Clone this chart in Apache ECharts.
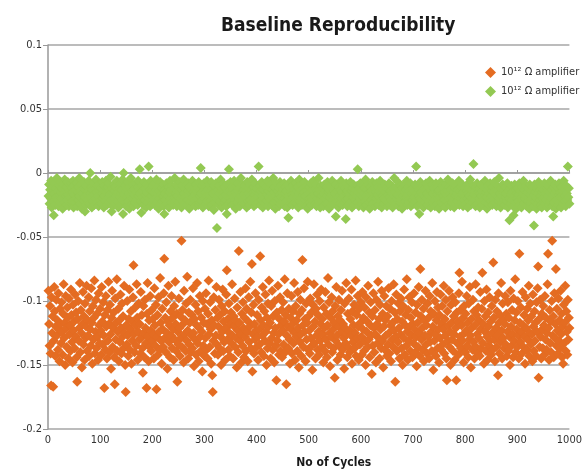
<!DOCTYPE html>
<html>
<head>
<meta charset="utf-8">
<script src="https://cdn.jsdelivr.net/npm/echarts@6/dist/echarts.min.js"></script>
<style>
  html, body { margin: 0; padding: 0; background: #fff; }
  #chart { width: 585px; height: 474px; }
</style>
</head>
<body>
<div id="chart"></div>
<script>
// values in thousandths, x = cycle number
var seriesNames = ['10\u00b9\u00b2 \u03a9 amplifier', '10\u00b9\u00b2 \u03a9 amplifier'];
var xTicks = [0, 100, 200, 300, 400, 500, 600, 700, 800, 900, 1000];
var yTicks = [-0.2, -0.15, -0.1, -0.05, 0, 0.05, 0.1];

var orangeMilli = [
  -92,-118,-135,-104,-141,-166,-97,-125,-112,-167,-131,-89,-108,-143,-120,-99,-127,-115,-138,-94,-122,-147,-106,-118,-133,
  -101,-124,-142,-110,-87,-129,-117,-150,-96,-121,-136,-105,-113,-145,-98,-126,-119,-139,-91,-111,-132,-148,-103,-123,-116,
  -137,-95,-128,-109,-144,-163,-114,-100,-131,-121,-86,-140,-107,-125,-152,-118,-93,-134,-112,-146,-102,-129,-120,-88,-139,
  -115,-127,-97,-143,-108,-122,-135,-90,-117,-149,-104,-130,-113,-84,-141,-124,-99,-137,-110,-128,-146,-94,-119,-133,-106,
  -123,-142,-89,-116,-134,-101,-127,-168,-111,-138,-96,-120,-145,-107,-131,-85,-118,-140,-103,-126,-153,-113,-92,-136,-121,
  -109,-144,-165,-98,-130,-117,-83,-139,-124,-106,-147,-115,-132,-95,-121,-141,-102,-128,-112,-137,-88,-125,-150,-171,-119,
  -134,-100,-127,-143,-114,-91,-138,-122,-108,-149,-116,-131,-97,-72,-126,-140,-105,-119,-135,-87,-113,-146,-124,-102,-130,
  -118,-141,-93,-129,-111,-137,-156,-104,-125,-144,-99,-121,-133,-168,-110,-86,-128,-147,-115,-136,-96,-123,-139,-107,-131,
  -114,-126,-145,-90,-119,-135,-103,-169,-128,-111,-142,-97,-124,-138,-82,-117,-131,-149,-106,-122,-136,-94,-67,-129,-113,
  -140,-101,-125,-153,-116,-88,-132,-119,-144,-108,-127,-96,-137,-113,-122,-146,-104,-130,-85,-118,-139,-110,-163,-124,-134,
  -98,-121,-143,-112,-129,-53,-136,-107,-118,-148,-92,-126,-115,-139,-102,-131,-81,-123,-145,-109,-134,-117,-99,-140,-127,
  -111,-137,-90,-125,-151,-114,-130,-103,-142,-119,-86,-133,-108,-147,-121,-96,-128,-139,-113,-124,-155,-100,-135,-117,-143,
  -106,-129,-94,-138,-118,-145,-110,-84,-126,-136,-101,-122,-149,-115,-158,-171,-131,-97,-119,-141,-107,-127,-89,-134,-113,
  -142,-120,-99,-137,-111,-128,-150,-104,-124,-91,-139,-116,-132,-108,-146,-121,-95,-76,-130,-114,-138,-102,-125,-143,-118,
  -109,-133,-87,-127,-145,-112,-120,-98,-136,-115,-129,-152,-105,-123,-140,-61,-117,-131,-93,-126,-148,-110,-135,-101,-121,
  -144,-113,-128,-90,-139,-106,-124,-147,-116,-97,-132,-120,-85,-137,-109,-71,-155,-126,-103,-141,-118,-130,-94,-123,-136,
  -111,-128,-146,-99,-122,-134,-65,-115,-140,-105,-127,-89,-119,-143,-108,-131,-95,-124,-150,-113,-137,-102,-120,-84,-133,
  -117,-145,-104,-129,-92,-138,-112,-125,-148,-100,-121,-135,-162,-109,-131,-88,-126,-142,-114,-97,-139,-119,-107,-144,-123,
  -101,-134,-116,-83,-140,-111,-165,-127,-94,-120,-137,-106,-130,-149,-113,-122,-96,-141,-118,-108,-133,-86,-125,-146,-104,
  -128,-115,-139,-93,-121,-152,-110,-132,-99,-126,-143,-107,-68,-119,-136,-90,-124,-114,-147,-102,-130,-117,-85,-138,-112,
  -123,-141,-98,-129,-109,-135,-154,-103,-120,-87,-133,-116,-145,-106,-127,-95,-138,-111,-124,-142,-100,-131,-118,-91,-136,
  -114,-126,-148,-105,-121,-139,-93,-130,-110,-144,-119,-82,-134,-101,-125,-151,-113,-128,-97,-140,-108,-122,-137,-117,-160,
  -104,-131,-89,-127,-146,-112,-120,-99,-135,-115,-142,-107,-124,-92,-138,-118,-129,-153,-102,-121,-133,-86,-126,-144,-110,
  -136,-98,-123,-140,-114,-127,-91,-149,-108,-132,-119,-103,-137,-125,-84,-143,-111,-129,-96,-120,-146,-106,-134,-117,-101,
  -128,-142,-93,-122,-113,-139,-105,-131,-150,-97,-124,-116,-136,-88,-130,-109,-144,-119,-101,-127,-157,-112,-135,-94,-121,
  -140,-107,-126,-148,-99,-118,-133,-85,-129,-114,-145,-103,-122,-137,-92,-131,-110,-152,-120,-96,-138,-115,-127,-104,-143,
  -112,-134,-90,-125,-141,-106,-119,-147,-100,-130,-117,-136,-87,-123,-109,-163,-128,-95,-139,-114,-132,-102,-121,-145,-108,
  -126,-98,-137,-116,-150,-104,-129,-91,-142,-119,-111,-135,-83,-124,-146,-107,-131,-97,-120,-139,-113,-127,-101,-144,-118,
  -133,-94,-122,-140,-109,-128,-151,-103,-117,-136,-89,-125,-143,-75,-112,-130,-99,-121,-138,-106,-147,-115,-127,-92,-134,
  -119,-141,-102,-128,-113,-145,-96,-132,-108,-124,-139,-86,-120,-154,-110,-131,-100,-126,-143,-115,-93,-137,-105,-122,-148,
  -111,-129,-95,-138,-118,-104,-134,-122,-88,-141,-114,-127,-99,-145,-162,-108,-131,-119,-92,-136,-124,-150,-103,-117,-130,
  -97,-139,-112,-126,-146,-101,-121,-162,-109,-133,-116,-142,-94,-78,-128,-107,-137,-119,-85,-131,-113,-148,-104,-125,-140,
  -110,-123,-96,-135,-117,-144,-102,-130,-89,-127,-152,-114,-121,-138,-99,-132,-108,-145,-119,-87,-136,-111,-126,-141,-105,
  -129,-115,-143,-93,-122,-137,-106,-78,-133,-118,-149,-100,-124,-112,-139,-91,-128,-146,-109,-120,-135,-97,-131,-116,-142,
  -104,-125,-138,-70,-113,-130,-147,-99,-121,-136,-108,-127,-158,-94,-117,-141,-111,-132,-86,-123,-145,-102,-129,-115,-137,
  -118,-96,-134,-110,-143,-124,-101,-139,-113,-128,-150,-92,-120,-135,-107,-126,-144,-98,-131,-115,-83,-140,-109,-122,-136,
  -100,-127,-145,-63,-117,-132,-105,-124,-141,-93,-119,-136,-111,-128,-149,-97,-121,-138,-106,-130,-115,-88,-143,-125,-102,
  -134,-112,-126,-147,-95,-120,-139,-108,-131,-117,-143,-101,-124,-90,-73,-160,-114,-136,-99,-128,-145,-110,-122,-137,-104,
  -119,-142,-96,-130,-113,-138,-125,-87,-63,-121,-146,-107,-133,-116,-140,-100,-53,-127,-112,-144,-94,-129,-118,-75,-135,
  -106,-123,-141,-98,-131,-115,-137,-92,-126,-110,-144,-120,-149,-103,-133,-117,-88,-139,-108,-124,-142,-99,-130,-113,-121
];

var greenMilli = [
  -18,-9,-24,-13,-20,-6,-27,-15,-11,-22,-33,-16,-8,-25,-12,-19,-4,-21,-14,-26,-10,-17,-23,-7,-15,
  -20,-12,-28,-9,-16,-23,-5,-18,-13,-25,-11,-21,-7,-17,-26,-14,-19,-8,-24,-12,-22,-15,-6,-27,-10,
  -17,-23,-13,-20,-8,-26,-15,-11,-21,-4,-18,-24,-14,-9,-28,-16,-12,-22,-7,-19,-30,-13,-25,-10,-17,
  -21,-14,-6,-24,-16,0,-19,-11,-27,-13,-22,-8,-17,-25,-12,-20,-5,-15,-23,-10,-18,-26,-9,-14,-21,
  -12,-24,-16,-7,-20,-13,-27,-10,-18,-22,-6,-15,-25,-11,-19,-8,-23,-14,-17,-3,-21,-30,-12,-26,-16,
  -9,-20,-14,-24,-11,-18,-6,-22,-15,-27,-12,-19,-8,-25,-16,-13,-21,-5,-32,0,-17,-23,-10,-14,-26,
  -12,-19,-7,-22,-16,-28,-11,-18,-4,-24,-14,-20,-9,-26,-13,-17,-23,-8,-21,-15,-11,-25,-6,-18,-13,
  3,-16,-22,-31,-10,-19,-14,-25,-7,-21,-12,-17,-27,-9,-15,-23,-11,5,-20,-13,-26,-6,-18,-14,-24,
  -10,-21,-15,-8,-25,-13,-19,-5,-23,-16,-11,-28,-14,-20,-7,-24,-17,-12,-22,-9,-18,-26,-32,-13,-16,
  -21,-8,-24,-14,-18,-11,-27,-15,-6,-20,-13,-23,-10,-17,-25,-12,-19,-4,-22,-16,-9,-26,-14,-18,-11,
  -23,-15,-7,-20,-13,-27,-10,-18,-22,-5,-16,-24,-12,-19,-9,-25,-14,-21,-8,-17,-28,-11,-15,-22,-13,
  -19,-6,-24,-15,-11,-21,-17,-26,-9,-14,-20,-12,-25,-7,-18,-23,-13,4,-16,-22,-10,-27,-14,-8,-20,
  -15,-24,-11,-18,-6,-22,-13,-26,-9,-17,-21,-14,-7,-25,-12,-19,-16,-29,-10,-23,-15,-8,-20,-43,-13,
  -18,-25,-10,-16,-22,-5,-14,-27,-12,-19,-8,-23,-15,-11,-21,-17,-26,-32,-9,-14,-24,3,-13,-20,-7,
  -22,-16,-11,-25,-13,-19,-6,-21,-15,-28,-10,-17,-23,-8,-14,-20,-12,-26,-18,-4,-24,-15,-9,-21,-13,
  -17,-24,-10,-19,-14,-27,-7,-22,-16,-12,-25,-9,-18,-21,-13,-5,-23,-15,-11,-26,-17,-8,-20,-14,-24,
  -12,-19,-23,5,-16,-10,-25,-14,-21,-7,-18,-27,-13,-20,-9,-24,-15,-11,-22,-17,-6,-26,-14,-19,-12,
  -21,-9,-16,-25,-13,-19,-4,-23,-15,-11,-28,-18,-8,-22,-14,-20,-12,-26,-17,-7,-24,-10,-19,-15,-23,
  -13,-20,-8,-26,-16,-11,-22,-14,-27,-9,-35,-18,-12,-24,-15,-6,-21,-17,-25,-10,-19,-13,-23,-16,-8,
  -24,-14,-19,-11,-27,-16,-5,-22,-13,-20,-9,-25,-17,-12,-23,-15,-7,-21,-18,-26,-10,-14,-28,-16,-20,
  -11,-23,-15,-8,-19,-25,-13,-21,-6,-17,-24,-12,-18,-9,-26,-14,-20,-16,-4,-22,-13,-27,-10,-18,-15,
  -22,-12,-26,-16,-9,-20,-14,-24,-11,-18,-7,-23,-15,-28,-13,-19,-10,-25,-17,-6,-21,-14,-24,-12,-19,
  -16,-34,-9,-22,-14,-19,-27,-11,-17,-24,-13,-6,-20,-15,-25,-10,-18,-23,-12,-21,-36,-8,-16,-26,-14,
  -20,-11,-24,-17,-7,-22,-14,-27,-12,-19,-9,-25,-16,-21,-13,-18,-23,-10,3,-15,-26,-12,-20,-8,-17,
  -24,-14,-19,-10,-27,-16,-12,-22,-5,-18,-25,-13,-20,-9,-23,-15,-28,-11,-17,-21,-14,-7,-24,-16,-19,
  -12,-26,-15,-20,-8,-23,-17,-11,-25,-14,-19,-6,-22,-16,-27,-10,-18,-13,-24,-20,-9,-15,-21,-12,-26,
  -17,-13,-23,-8,-19,-25,-14,-21,-10,-16,-27,-12,-18,-4,-22,-15,-24,-11,-20,-17,-7,-26,-13,-19,-23,
  -10,-21,-16,-28,-12,-18,-24,-9,-15,-22,-13,-19,-6,-25,-17,-11,-23,-14,-20,-8,-26,-16,-12,-21,-18,
  -24,-14,-19,-9,-22,5,-16,-26,-11,-18,-13,-32,-20,-7,-24,-15,-21,-10,-17,-27,-12,-19,-23,-14,-8,
  -20,-16,-25,-11,-18,-22,-6,-14,-27,-13,-19,-9,-23,-16,-12,-21,-26,-15,-8,-24,-17,-11,-20,-14,-28,
  -13,-19,-7,-23,-16,-10,-25,-18,-12,-21,-15,-27,-9,-17,-22,-14,-5,-24,-11,-20,-16,-26,-13,-19,-23,
  -8,-21,-15,-27,-12,-18,-24,-10,-16,-22,-13,-19,-6,-25,-14,-20,-11,-23,-17,-9,-26,-15,-21,-12,-18,
  -24,-14,-20,-9,-27,-16,-12,-22,-18,-5,-25,-13,-19,-23,-10,7,-17,-21,-14,-26,-11,-18,-8,-24,-15,
  -20,-12,-27,-16,-22,-9,-18,-14,-25,-11,-21,-17,-6,-23,-15,-19,-28,-13,-10,-24,-16,-20,-8,-22,-14,
  -18,-25,-11,-21,-15,-7,-23,-17,-13,-26,-10,-19,-14,-22,-4,-20,-16,-27,-12,-18,-24,-9,-15,-21,-13,
  -25,-11,-19,-16,-22,-8,-27,-14,-20,-37,-12,-24,-17,-10,-21,-15,-26,-33,-18,-9,-23,-13,-28,-16,-20,
  -12,-22,-17,-8,-25,-14,-19,-27,-11,-21,-16,-6,-24,-13,-20,-18,-10,-26,-15,-22,-12,-19,-28,-9,-17,
  -23,-14,-20,-11,-26,-17,-41,-9,-22,-15,-19,-28,-12,-24,-16,-7,-21,-13,-25,-18,-10,-27,-15,-20,-13,
  -19,-8,-24,-16,-21,-12,-27,-14,-18,-10,-25,-15,-22,-6,-20,-13,-26,-17,-34,-11,-23,-16,-9,-28,-14,
  -21,-12,-25,-17,-8,-23,-15,-19,-27,-11,-20,-14,-24,-6,-18,-22,-13,-26,-10,-16,-21,5,-19,-12,-24
];

var colors = ['#e46c22', '#93c953'];
var narrow = '"DejaVu Sans Condensed", "Liberation Sans Narrow", "Liberation Sans", sans-serif';

function toPoints(arr) {
  var pts = [];
  for (var i = 0; i < arr.length; i++) {
    pts.push([i + 1, arr[i] / 1000]);
  }
  return pts;
}

var myChart = echarts.init(document.getElementById('chart'), null, { renderer: 'canvas' });
var option = {
  backgroundColor: '#fff',
  animation: false,
  color: colors,
  title: {
    text: 'Baseline Reproducibility',
    left: 216,
    top: 12,
    textStyle: { fontFamily: narrow, fontSize: 19, fontWeight: 'bold', color: '#1a1a1a' }
  },
  legend: {
    orient: 'vertical',
    left: 480,
    top: 62,
    itemWidth: 11,
    itemHeight: 11,
    itemGap: 8,
    icon: 'diamond',
    textStyle: { fontFamily: narrow, fontSize: 11, color: '#333' },
    data: [
      { name: seriesNames[0] },
      { name: seriesNames[1] + ' ' }
    ]
  },
  grid: { left: 48, right: 10, top: 45, bottom: 44 },
  xAxis: {
    type: 'value',
    min: xTicks[0],
    max: xTicks[xTicks.length - 1],
    interval: 100,
    name: 'No of Cycles',
    nameLocation: 'middle',
    nameGap: 28,
    nameTextStyle: { fontFamily: narrow, fontSize: 12, fontWeight: 'bold', color: '#1a1a1a', padding: [0, 0, 0, 50] },
    axisLine: { lineStyle: { color: '#999', width: 1.5 } },
    axisTick: { show: true, inside: true, length: 3, lineStyle: { color: '#999' } },
    axisLabel: {
      fontFamily: narrow, fontSize: 11, color: '#333', margin: 6,
      formatter: function (v) { return String(v); }
    },
    splitLine: { show: false }
  },
  yAxis: {
    type: 'value',
    min: yTicks[0],
    max: yTicks[yTicks.length - 1],
    interval: 0.05,
    axisLine: { show: true, lineStyle: { color: '#999', width: 1.5 } },
    axisTick: { show: true, length: 5, lineStyle: { color: '#999' } },
    axisLabel: {
      fontFamily: narrow, fontSize: 11, color: '#333', margin: 6,
      formatter: function (v) { return +v.toFixed(2) + ''; }
    },
    splitLine: { show: true, lineStyle: { color: '#a6a6a6', width: 1.5 } }
  },
  series: [
    {
      name: seriesNames[0],
      type: 'scatter',
      symbol: 'diamond',
      symbolSize: 10,
      itemStyle: { color: colors[0], opacity: 1 },
      data: toPoints(orangeMilli)
    },
    {
      name: seriesNames[1] + ' ',
      type: 'scatter',
      symbol: 'diamond',
      symbolSize: 10,
      itemStyle: { color: colors[1], opacity: 1 },
      data: toPoints(greenMilli)
    }
  ]
};
myChart.setOption(option);
</script>
</body>
</html>
